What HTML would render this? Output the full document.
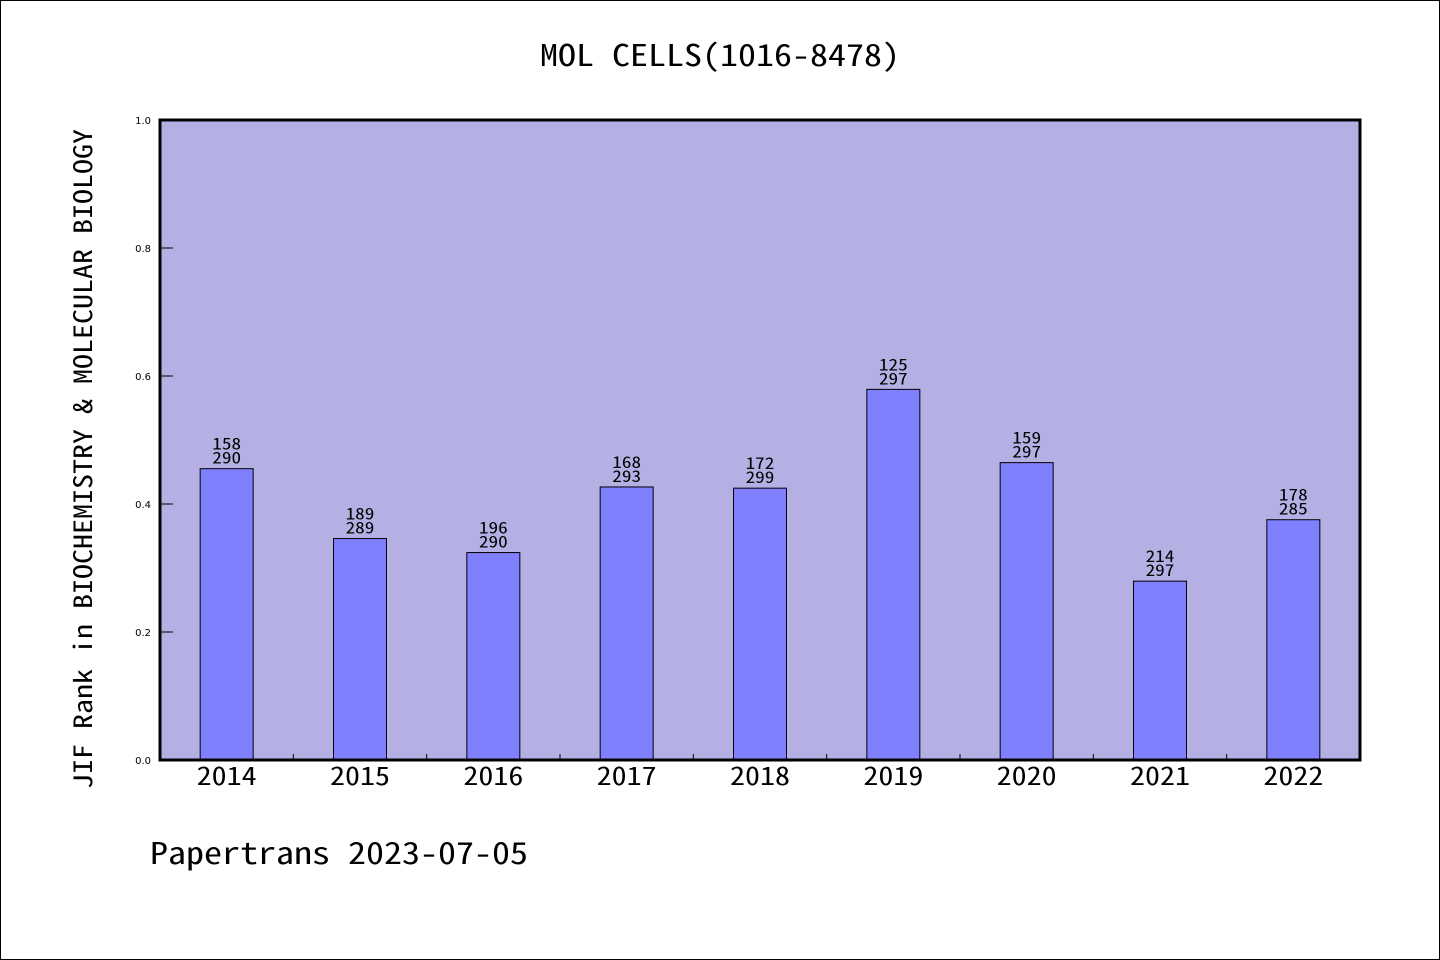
<!DOCTYPE html>
<html><head><meta charset="utf-8"><style>
html,body{margin:0;padding:0;background:#fff}
svg{display:block}
text{font-family:"WenQuanYi Zen Hei Mono","WenQuanYi Zen Hei","Noto Sans Mono CJK SC","DejaVu Sans Mono",monospace;fill:#000}
.ytl{font-family:"DejaVu Sans","Liberation Sans",sans-serif}
</style></head><body>
<svg id="chart" width="1440" height="960" viewBox="0 0 1440 960">
<rect x="0.5" y="0.5" width="1439" height="959" fill="#fff" stroke="#000"/>
<text class="mono" x="720" y="66" font-size="30" text-anchor="middle">MOL CELLS(1016-8478)</text>
<rect x="160" y="120" width="1200" height="640" fill="#b5b0e3"/>
<g id="bars"></g>
<g id="axes"></g>
<rect x="160" y="120" width="1200" height="640" fill="none" stroke="#000" stroke-width="3"/>
<text class="mono" transform="translate(92,459) rotate(-90)" font-size="25" text-anchor="middle">JIF Rank in BIOCHEMISTRY &amp; MOLECULAR BIOLOGY</text>
<text class="mono" x="150" y="864" font-size="30">Papertrans 2023-07-05</text>
</svg>
<script>
const years=["2014","2015","2016","2017","2018","2019","2020","2021","2022"];
const ranks=[158,189,196,168,172,125,159,214,178];
const totals=[290,289,290,293,299,297,297,297,285];
const yTicks=[0,0.2,0.4,0.6,0.8,1.0];
const NS="http://www.w3.org/2000/svg";
const X0=160,X1=1360,Y0=760,Y1=120;
const band=(X1-X0)/years.length;
const xc=i=>X0+band*(i+0.5);
const ys=v=>Y0-(Y0-Y1)*v;
function mk(t,a,p){const e=document.createElementNS(NS,t);for(const k in a)e.setAttribute(k,a[k]);p.appendChild(e);return e;}
const bars=document.getElementById('bars'),axes=document.getElementById('axes');
years.forEach((y,i)=>{
  const v=1-ranks[i]/totals[i];
  const r=mk('rect',{x:xc(i)-26.5,y:ys(v),width:53,height:Y0-ys(v),fill:'#8080ff',stroke:'#000','stroke-width':1},bars);
  
  
  const t1=mk('text',{x:xc(i),y:ys(v)-19,'font-size':16,'text-anchor':'middle','class':'mono'},bars);t1.textContent=ranks[i];
  
  
  const t2=mk('text',{x:xc(i),y:ys(v)-5,'font-size':16,'text-anchor':'middle','class':'mono'},bars);t2.textContent=totals[i];
  
  
  const xl=mk('text',{x:xc(i),y:785,'font-size':25,'text-anchor':'middle','class':'mono'},axes);xl.textContent=y;
  
  
  if(i>0){const tk=mk('line',{x1:X0+band*i,x2:X0+band*i,y1:Y0,y2:Y0-6,stroke:'#000'},axes);
  
  }
});
yTicks.forEach(v=>{
  const tk=mk('line',{x1:X0,x2:X0+13,y1:ys(v),y2:ys(v),stroke:'#000'},axes);
  
  
  const l=mk('text',{x:151,y:ys(v)+4,'font-size':10,'text-anchor':'end','class':'ytl'},axes);l.textContent=v.toFixed(1);
  
  
});
document.querySelectorAll('text.mono').forEach(t=>{
  const fs=parseFloat(t.getAttribute('font-size'));
  t.setAttribute('textLength',(t.textContent.length*0.6*fs).toFixed(1));
  t.setAttribute('lengthAdjust','spacingAndGlyphs');
});
</script>
</body></html>
